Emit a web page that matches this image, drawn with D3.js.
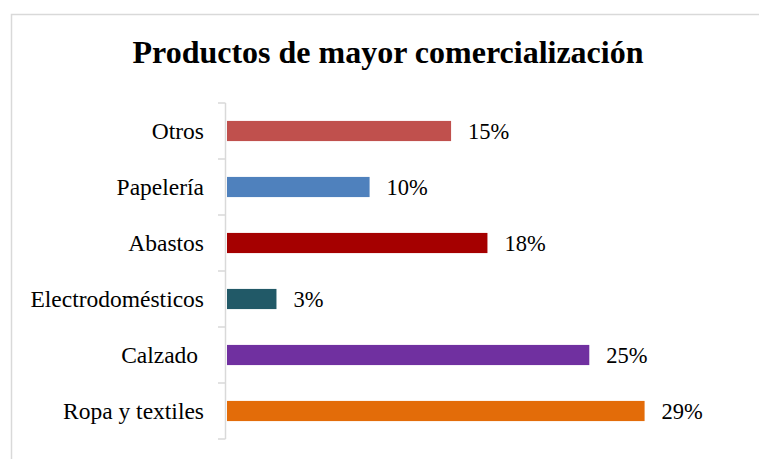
<!DOCTYPE html>
<html lang="es">
<head>
<meta charset="utf-8">
<title>Productos de mayor comercialización</title>
<script src="https://cdn.jsdelivr.net/npm/d3@7"></script>
<style>
    body { margin: 0; background: #fff; }
    svg { display: block; }
</style>
</head>
<body>
<script type="text/javascript">

    // data (top to bottom as shown)
    var categories = ["Otros", "Papelería", "Abastos", "Electrodomésticos", "Calzado ", "Ropa y textiles"];
    var values = [15.4, 9.8, 17.9, 3.4, 24.9, 28.7];
    var colors = ["#C0504D", "#4F81BD", "#A50000", "#215967", "#7030A0", "#E36C09"];

    var width = 759;
    var height = 459;

    var svg = d3.select("body").append("svg")
        .attr("width", width)
        .attr("height", height);

    // chart frame
    svg.append("rect")
        .attr("x", 11.5)
        .attr("y", 14.5)
        .attr("width", 800)
        .attr("height", 500)
        .attr("fill", "#fff")
        .attr("stroke", "#d9d9d9")
        .attr("stroke-width", 1.5);

    svg.append("text")
        .attr("x", 388)
        .attr("y", 63)
        .attr("text-anchor", "middle")
        .attr("font-family", "'Liberation Serif', 'Times New Roman', serif")
        .attr("font-weight", "bold")
        .attr("font-size", 32)
        .attr("fill", "#000")
        .text("Productos de mayor comercialización");

    var x = d3.scaleLinear()
        .domain([0, 35])
        .range([227, 227 + 35 * 14.55]);

    var y = d3.scaleBand()
        .domain(categories)
        .range([103, 439])
        .paddingInner(0.64)
        .paddingOuter(0.32);

    // y axis: only the light line with outer ticks between bands
    var axisX = 225.5;
    svg.append("line")
        .attr("x1", axisX).attr("x2", axisX)
        .attr("y1", 103).attr("y2", 439)
        .attr("stroke", "#d9d9d9")
        .attr("stroke-width", 1.5);

    var step = y.step();
    var tickYs = d3.range(categories.length + 1).map(function (i) { return 103 + i * step; });
    svg.selectAll(".tick")
        .data(tickYs)
        .enter()
        .append("line")
        .attr("x1", 218).attr("x2", axisX)
        .attr("y1", function (d) { return d; })
        .attr("y2", function (d) { return d; })
        .attr("stroke", "#d9d9d9")
        .attr("stroke-width", 1.5);

    // category labels
    svg.selectAll(".cat")
        .data(categories)
        .enter()
        .append("text")
        .attr("x", 204)
        .attr("y", function (d) { return y(d) + y.bandwidth() / 2; })
        .attr("dy", "0.34em")
        .attr("text-anchor", "end")
        .attr("font-family", "'Liberation Serif', 'Times New Roman', serif")
        .attr("font-size", 23.5)
        .attr("fill", "#000")
        .attr("xml:space", "preserve")
        .style("white-space", "pre")
        .text(function (d) { return d; });

    // bars
    svg.selectAll(".bar")
        .data(values)
        .enter()
        .append("rect")
        .attr("x", x(0))
        .attr("y", function (d, i) { return y(categories[i]); })
        .attr("width", function (d) { return x(d) - x(0); })
        .attr("height", y.bandwidth())
        .attr("fill", function (d, i) { return colors[i]; });

    // value labels
    svg.selectAll(".val")
        .data(values)
        .enter()
        .append("text")
        .attr("x", function (d) { return x(d) + 17; })
        .attr("y", function (d, i) { return y(categories[i]) + y.bandwidth() / 2; })
        .attr("dy", "0.34em")
        .attr("font-family", "'Liberation Serif', 'Times New Roman', serif")
        .attr("font-size", 22.5)
        .attr("fill", "#000")
        .text(function (d) { return Math.round(d) + "%"; });

</script>
</body>
</html>
